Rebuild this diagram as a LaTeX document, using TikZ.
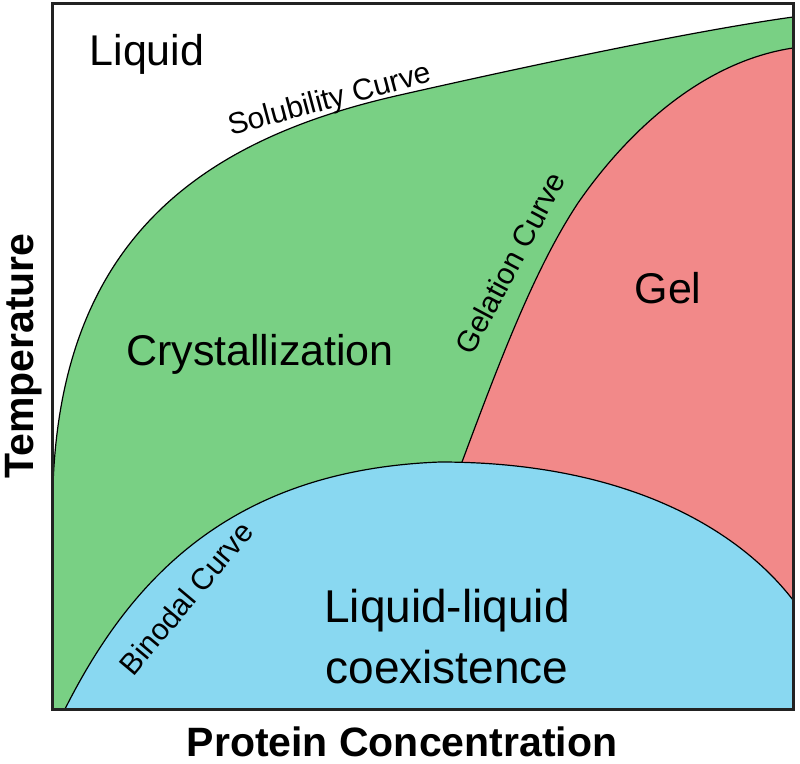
\documentclass[tikz,border=0pt]{standalone}
\usepackage{fontspec}
\setmainfont{Liberation Sans}
\definecolor{crystgreen}{RGB}{121,208,132}
\definecolor{gelred}{RGB}{242,137,137}
\definecolor{llblue}{RGB}{137,216,241}
\definecolor{framegray}{RGB}{34,34,34}
\begin{document}
\begin{tikzpicture}[x=1pt,y=-1pt,
  regionlabel/.style={font=\fontsize{43}{50}\selectfont, inner sep=0pt, anchor=base},
  curvelabel/.style={font=\fontsize{30}{36}\selectfont, inner sep=0pt},
  axislabel/.style={font=\bfseries\fontsize{41}{48}\selectfont, inner sep=0pt, anchor=base},
  curveline/.style={line width=1.2pt, black},
  frameline/.style={line width=3pt, framegray}]
\useasboundingbox (0,0) rectangle (800,763);
\fill[white] (0,0) rectangle (800,763);
% curve shapes
\def\solubpath{(53,485) .. controls (62,240) and (200,140) .. (400,95) .. controls (550,61) and (700,30) .. (793,17)}
\def\gelpath{(462,462) .. controls (500,360) and (535,268) .. (578,203) .. controls (625,135) and (700,62) .. (793,48)}
\def\binpath{(65,709) .. controls (130,580) and (230,470) .. (440,462) .. controls (620,462) and (735,525) .. (793,600)}
% green region (below solubility curve)
\fill[crystgreen] \solubpath -- (793,709) -- (53,709) -- cycle;
% red region (below gelation curve)
\fill[gelred] \gelpath -- (793,709) -- (462,709) -- cycle;
% blue region (below binodal curve)
\fill[llblue] \binpath -- (793,709) -- cycle;
% curves
\draw[curveline] \solubpath;
\draw[curveline] \gelpath;
\draw[curveline] \binpath;
% frame
\draw[frameline] (52,3) rectangle (793,709);
% region labels
\node[regionlabel] (liquid) at (147,65) {Liquid};
\node[regionlabel] (cryst) at (260,365) {Crystallization};
\node[regionlabel] (gel) at (668,303) {Gel};
\node[regionlabel, font=\fontsize{46}{52}\selectfont] (ll1) at (447,622) {Liquid-liquid};
\node[regionlabel, font=\fontsize{46}{52}\selectfont] (ll2) at (447,683) {coexistence};
% curve labels
\node[curvelabel, rotate=15] (solub) at (330,101) {Solubility Curve};
\node[curvelabel, rotate=62] (gelat) at (510,263) {Gelation Curve};
\node[curvelabel, rotate=50] (binod) at (186,598) {Binodal Curve};
% axis labels
\node[axislabel] (xlab) at (402,756) {Protein Concentration};
\node[axislabel, rotate=90] (ylab) at (33,356) {Temperature};
\end{tikzpicture}
\end{document}
